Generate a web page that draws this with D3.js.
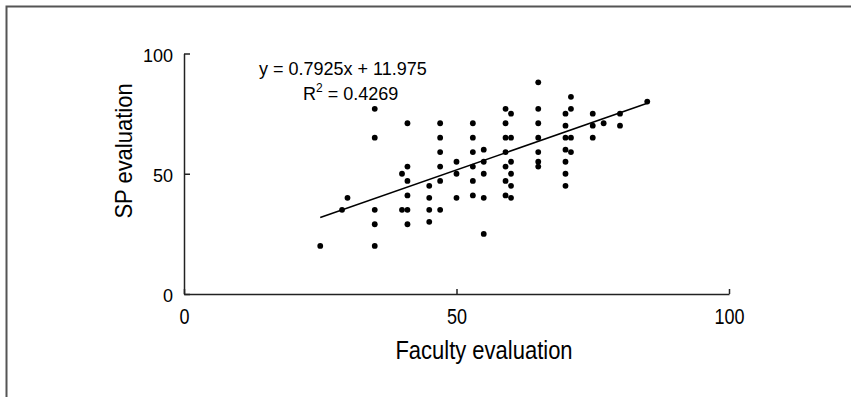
<!DOCTYPE html>
<html>
<head>
<meta charset="utf-8">
<script src="https://cdn.jsdelivr.net/npm/d3@7"></script>
<style>
  body { margin: 0; background: #fff; }
  text { font-family: "Liberation Sans", Arial, sans-serif; fill: #000; }
</style>
</head>
<body>
<div id="visualization"></div>
<script>
// Faculty score (x) and SP score (y) of each student
const faculty = [25, 29, 30,
    35, 35, 35, 35, 35,
    40, 40,
    41, 41, 41, 41, 41, 41,
    45, 45, 45, 45,
    47, 47, 47, 47, 47, 47,
    50, 50, 50,
    53, 53, 53, 53, 53, 53,
    55, 55, 55, 55, 55,
    59, 59, 59, 59, 59, 59, 59,
    60, 60, 60, 60, 60, 60,
    65, 65, 65, 65, 65, 65, 65,
    70, 70, 70, 70, 70, 70, 70,
    71, 71, 71, 71,
    75, 75, 75,
    77,
    80, 80,
    85];
const sp = [20, 35, 40,
    77, 65, 35, 29, 20,
    50, 35,
    71, 53, 47, 41, 35, 29,
    45, 40, 35, 30,
    71, 65, 59, 53, 47, 35,
    55, 50, 40,
    71, 65, 59, 53, 47, 41,
    60, 55, 50, 40, 25,
    77, 71, 65, 59, 53, 47, 41,
    75, 65, 55, 50, 45, 40,
    88, 77, 71, 65, 59, 55, 53,
    75, 70, 65, 60, 55, 50, 45,
    82, 77, 65, 59,
    75, 70, 65,
    71,
    75, 70,
    80];

// trend line
const slope = 0.7925;
const intercept = 11.975;
const rSquared = 0.4269;
const fitRange = [25, 85];

const xTicks = [0, 50, 100];
const yTicks = [0, 50, 100];

const data = faculty.map((f, i) => ({ x: f, y: sp[i] }));

const svg = d3.select("#visualization").append("svg")
    .attr("width", 860)
    .attr("height", 397);

// outer frame (only left and top edges are in the picture)
svg.append("path")
    .attr("d", "M6.5,397V6.5H851")
    .attr("fill", "none")
    .attr("stroke", "#555")
    .attr("stroke-width", 2);

const x = d3.scaleLinear().domain([0, 100]).range([184, 729]);
const y = d3.scaleLinear().domain([0, 100]).range([294, 53.5]);

// x axis, ticks point up
const xAxis = svg.append("g")
    .attr("transform", `translate(0,${y(0)})`)
    .call(d3.axisBottom(x).tickValues(xTicks).tickSizeInner(-5).tickSizeOuter(0));
xAxis.selectAll("text")
    .attr("y", 0).attr("dy", 0)
    .attr("transform", "translate(0,30) scale(1,1.2)")
    .style("font-size", "18px");

// y axis, ticks point right
const yAxis = svg.append("g")
    .attr("transform", `translate(${x(0)},0)`)
    .call(d3.axisLeft(y).tickValues(yTicks).tickSizeInner(-6).tickSizeOuter(0).tickPadding(11));
yAxis.selectAll("text")
    .attr("dy", "0.42em")
    .style("font-size", "18px");

svg.selectAll(".domain, .tick line")
    .attr("stroke", "#222")
    .attr("stroke-width", 1.5);

// trend line
svg.append("path")
    .datum(fitRange)
    .attr("fill", "none")
    .attr("stroke", "#000")
    .attr("stroke-width", 1.5)
    .attr("d", d3.line()
        .x(d => x(d))
        .y(d => y(slope * d + intercept))
    );

// points
svg.append("g").selectAll("circle")
    .data(data)
    .enter().append("circle")
    .attr("cx", d => x(d.x))
    .attr("cy", d => y(d.y))
    .attr("r", 2.9)
    .attr("fill", "#000");

// equation
svg.append("text")
    .attr("x", 259)
    .attr("y", 75)
    .style("font-size", "18px")
    .text(`y = ${slope}x + ${intercept}`);

const r2 = svg.append("text")
    .attr("x", 303)
    .attr("y", 100)
    .style("font-size", "18px");
r2.append("tspan").text("R");
r2.append("tspan").attr("dy", -8).style("font-size", "12px").text("2");
r2.append("tspan").attr("dy", 8).text(` = ${rSquared}`);

// axis titles
svg.append("text")
    .attr("transform", "translate(484,359) scale(1,1.2)")
    .attr("text-anchor", "middle")
    .style("font-size", "22px")
    .text("Faculty evaluation");

svg.append("text")
    .attr("transform", "translate(132,151) rotate(-90) scale(1,1.08)")
    .attr("text-anchor", "middle")
    .style("font-size", "22px")
    .text("SP evaluation");
</script>
</body>
</html>
